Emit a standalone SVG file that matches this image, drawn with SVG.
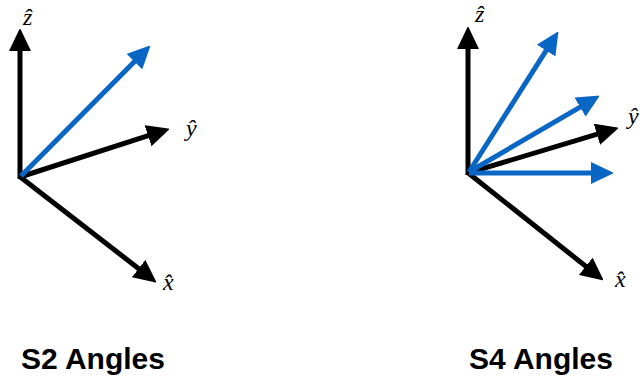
<svg xmlns="http://www.w3.org/2000/svg" width="640" height="385" viewBox="0 0 640 385">
  <defs>
    <marker id="headK" markerUnits="userSpaceOnUse" markerWidth="22" markerHeight="22" refX="10" refY="11" orient="auto" viewBox="0 0 22 22">
      <path d="M0,0 L23,11 L0,22 z" fill="#000"/>
    </marker>
    <marker id="headB" markerUnits="userSpaceOnUse" markerWidth="22" markerHeight="22" refX="10" refY="11" orient="auto" viewBox="0 0 22 22">
      <path d="M0,0 L23,11 L0,22 z" fill="#0A66C4"/>
    </marker>
  </defs>
  <style>
    .k { stroke: #000; stroke-width: 5; fill: none; marker-end: url(#headK); }
    .b { stroke: #0A66C4; stroke-width: 5; fill: none; marker-end: url(#headB); }
    .m { font-family: "Liberation Serif", "DejaVu Serif", serif; font-style: italic; font-size: 24px; fill: #000; }
    .t { font-family: "Liberation Sans", Arial, sans-serif; font-weight: bold; font-size: 30px; fill: #000; }
  </style>

  <g id="s2">
    <g id="s2-connectors">
      <line class="k" x1="20" y1="179" x2="20" y2="41"/>
      <line class="k" x1="20" y1="177" x2="157.6" y2="132.7"/>
      <line class="k" x1="19" y1="176" x2="146.5" y2="274.7"/>
      <line class="b" x1="21" y1="176" x2="141.5" y2="54.5"/>
    </g>
    <g id="s2-labels">
      <text class="m" x="23" y="25">ẑ</text>
      <text class="m" x="186" y="136">ŷ</text>
      <text class="m" x="163" y="290">x̂</text>
    </g>
    <text id="s2-title" class="t" x="21" y="369">S2 Angles</text>
  </g>

  <g id="s4">
    <g id="s4-connectors">
      <line class="k" x1="468" y1="175" x2="468" y2="39"/>
      <line class="k" x1="468" y1="173" x2="606.5" y2="131.4"/>
      <line class="k" x1="467" y1="172" x2="593.6" y2="272.5"/>
      <line class="b" x1="469" y1="172" x2="551.5" y2="42.1"/>
      <line class="b" x1="469" y1="172" x2="588.7" y2="102.1"/>
      <line class="b" x1="469" y1="173" x2="601" y2="173"/>
    </g>
    <g id="s4-labels">
      <text class="m" x="475" y="22">ẑ</text>
      <text class="m" x="628" y="124">ŷ</text>
      <text class="m" x="615" y="287">x̂</text>
    </g>
    <text id="s4-title" class="t" x="469" y="369">S4 Angles</text>
  </g>
</svg>
